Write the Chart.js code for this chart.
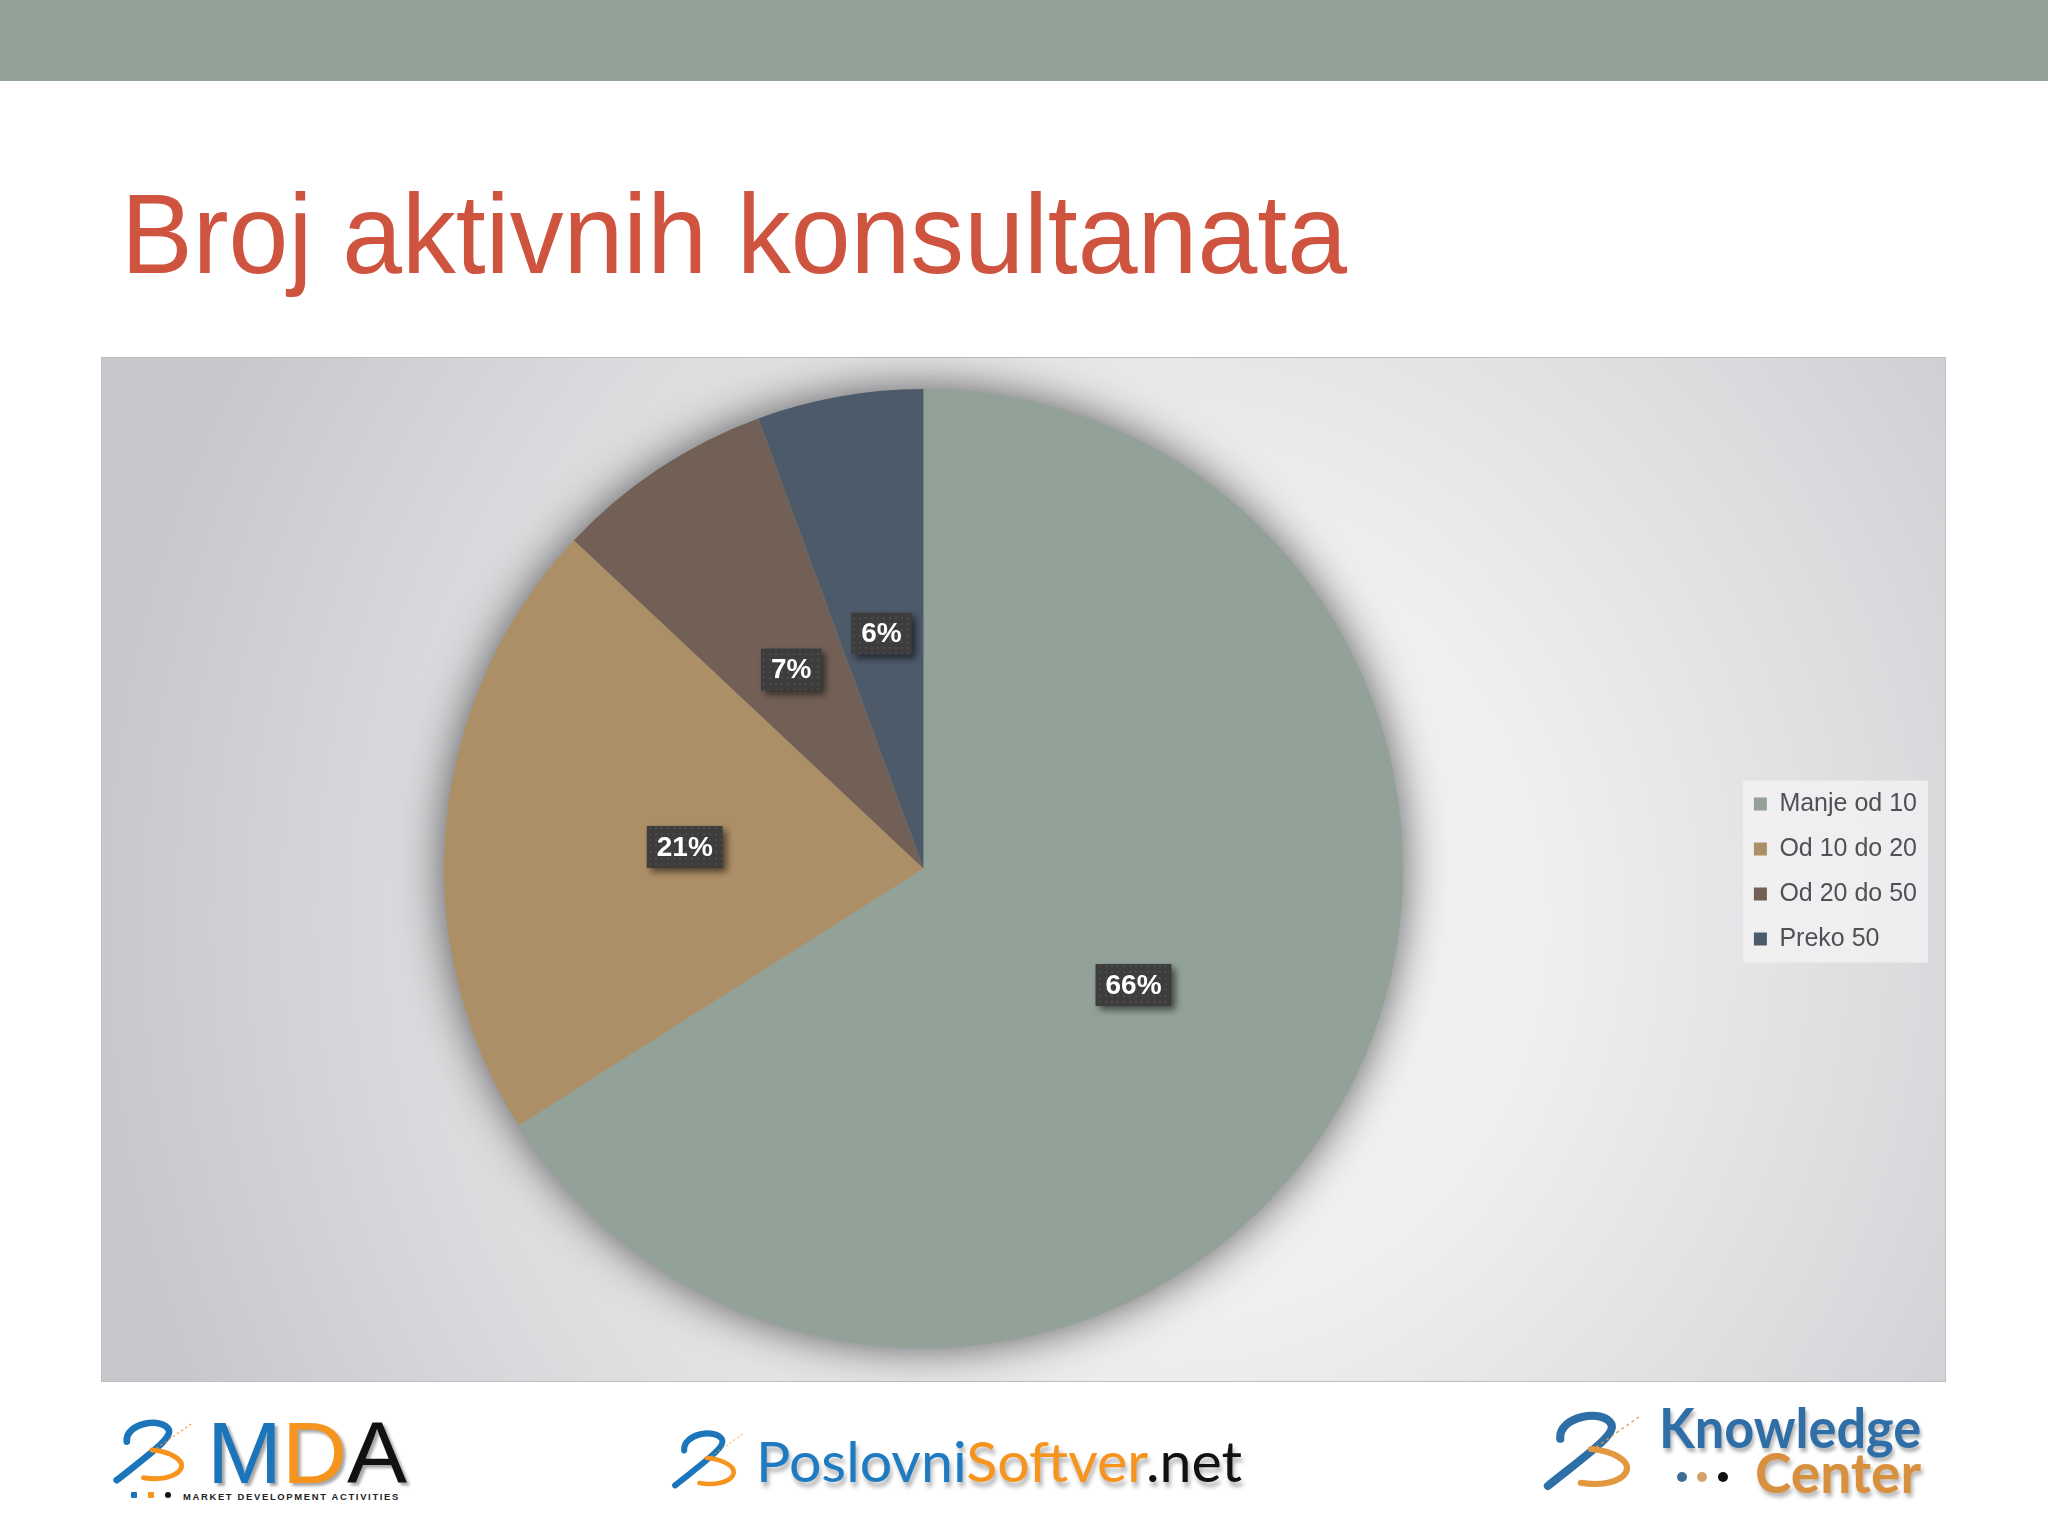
<!DOCTYPE html>
<html><head><meta charset="utf-8">
<script src="https://cdn.jsdelivr.net/npm/chart.js@4.4.1/dist/chart.umd.min.js"></script>
<style>
html,body{margin:0;padding:0;background:#fff;}
body{width:2048px;height:1536px;position:relative;overflow:hidden;font-family:"Liberation Sans",Arial,sans-serif;}
#topbar{position:absolute;left:0;top:0;width:2048px;height:81px;background:#93A299;}
.txt{position:absolute;white-space:nowrap;line-height:1;transform-origin:0 0;display:inline-block;}
#chartbox{position:absolute;left:101px;top:357px;width:1845px;height:1025px;
 background: radial-gradient(ellipse 1080px 1150px at 58% 55%, #F7F7F9 0%, #EFEFF1 35%, #DCDCDF 68%, #C8C7CC 100%);
 box-shadow: inset 0 0 0 1px #BEBEC3;}
#chart{position:absolute;left:0;top:0;}
svg.icon{position:absolute;overflow:visible;}
.dot{position:absolute;border-radius:50%;}
</style></head>
<body>
<div id="topbar"></div>
<div id="title" class="txt" style="font-size:113px;color:#CF543F;">Broj aktivnih konsultanata</div>
<div id="chartbox"><canvas id="chart" width="1845" height="1025"></canvas></div>

<!-- MDA logo -->
<svg class="icon" style="left:110px;top:1415px" width="84" height="70" viewBox="0 0 100 80">
 <path d="M20,30 C18,8 62,0 70,16 C74,26 48,44 8,76" fill="none" stroke="#1B75BB" stroke-width="8" stroke-linecap="round"/>
 <path d="M50,40 C72,42 90,52 84,63 C78,73 58,76 40,73" fill="none" stroke="#F7941D" stroke-width="6" stroke-linecap="round"/>
 <path d="M55,38 L98,8" fill="none" stroke="#F7941D" stroke-width="1.2" stroke-dasharray="3,3"/>
</svg>
<div id="mda" class="txt" style="font-size:88px;text-shadow:3px 3px 3px rgba(0,0,0,0.35);"><span style="color:#1B75BB">M</span><span style="color:#F7941D">D</span><span style="color:#111">A</span></div>
<div class="dot" style="left:131px;top:1492px;width:6px;height:6px;border-radius:1px;background:#1B75BB"></div>
<div class="dot" style="left:148px;top:1492px;width:6px;height:6px;border-radius:1px;background:#F7941D"></div>
<div class="dot" style="left:165px;top:1492px;width:6px;height:6px;background:#111"></div>
<div id="mdasub" class="txt" style="font-size:9px;font-weight:bold;letter-spacing:1.6px;color:#222;">MARKET DEVELOPMENT ACTIVITIES</div>

<!-- PoslovniSoftver logo -->
<svg class="icon" style="left:669px;top:1427px" width="76" height="62" viewBox="0 0 100 80">
 <path d="M20,30 C18,8 62,0 70,16 C74,26 48,44 8,76" fill="none" stroke="#1B75BB" stroke-width="8" stroke-linecap="round"/>
 <path d="M50,40 C72,42 90,52 84,63 C78,73 58,76 40,73" fill="none" stroke="#F7941D" stroke-width="6" stroke-linecap="round"/>
 <path d="M55,38 L98,8" fill="none" stroke="#F7941D" stroke-width="1.2" stroke-dasharray="3,3"/>
</svg>
<div id="ps" class="txt" style="font-family:Lato,'Open Sans',sans-serif;font-size:56px;text-shadow:2px 5px 4px rgba(0,0,0,0.3);"><span style="color:#1F7BC1">Poslovni</span><span style="color:#F7941D">Softver</span><span style="color:#111">.net</span></div>

<!-- Knowledge Center logo -->
<svg class="icon" style="left:1538px;top:1408px" width="106" height="82" viewBox="0 0 100 80">
 <path d="M20,30 C18,8 62,0 70,16 C74,26 48,44 8,76" fill="none" stroke="#2E6FA8" stroke-width="8" stroke-linecap="round"/>
 <path d="M50,40 C72,42 90,52 84,63 C78,73 58,76 40,73" fill="none" stroke="#E3983F" stroke-width="6" stroke-linecap="round"/>
 <path d="M55,38 L98,8" fill="none" stroke="#E3983F" stroke-width="1.2" stroke-dasharray="3,3"/>
</svg>
<div id="kn" class="txt" style="font-family:Lato,'Open Sans',sans-serif;font-weight:bold;font-size:55px;color:#2F6EA6;text-shadow:2px 4px 4px rgba(0,0,0,0.3);">Knowledge</div>
<div id="ce" class="txt" style="font-family:Lato,'Open Sans',sans-serif;font-weight:bold;font-size:55px;color:#D9903E;text-shadow:2px 4px 4px rgba(0,0,0,0.3);">Center</div>
<div class="dot" style="left:1677px;top:1472px;width:10px;height:10px;background:#3C6E98"></div>
<div class="dot" style="left:1697px;top:1472px;width:10px;height:10px;background:#D2A36A"></div>
<div class="dot" style="left:1718px;top:1472px;width:10px;height:10px;background:#111"></div>

<script>
// ---- data ----
const categories = ['Manje od 10', 'Od 10 do 20', 'Od 20 do 50', 'Preko 50'];
const values = [66, 21, 7.4, 5.6];
const sliceColors = ['#93A299', '#AD8F67', '#726056', '#4C5A6A'];

function place(id, x, baseline, fitWidth){
  const el = document.getElementById(id);
  el.style.left = x + 'px'; el.style.top = '0px';
  const m = document.createElement('span');
  m.style.cssText = 'display:inline-block;width:0;height:0;vertical-align:baseline;';
  el.appendChild(m);
  const off = m.getBoundingClientRect().top - el.getBoundingClientRect().top;
  el.removeChild(m);
  el.style.top = (baseline - off) + 'px';
  if (fitWidth) {
    const w = el.getBoundingClientRect().width;
    el.style.transform = 'scaleX(' + (fitWidth / w) + ')';
  }
}
place('title', 121, 273, 1226);
place('mda', 207, 1483, 200);
place('mdasub', 183, 1500, 217);
place('ps', 756, 1482, 486);
place('kn', 1659, 1448, 262);
place('ce', 1755, 1493, 166);

Chart.defaults.font.family = '"Liberation Sans", Arial, sans-serif';

function makePattern(ctx){
  const c = document.createElement('canvas'); c.width = 6; c.height = 6;
  const p = c.getContext('2d');
  p.fillStyle = '#3D3D3D'; p.fillRect(0, 0, 6, 6);
  p.fillStyle = '#515152'; p.beginPath(); p.arc(3, 3, 1.1, 0, Math.PI * 2); p.fill();
  return ctx.createPattern(c, 'repeat');
}

const legendBg = {
  id: 'legendBg',
  beforeDraw(chart){
    const lg = chart.legend; const ctx = chart.ctx;
    const cy = (lg.top + lg.bottom) / 2 + 3;
    ctx.save();
    ctx.fillStyle = 'rgba(242,242,244,0.8)';
    ctx.fillRect(lg.left + 9, cy - 91, 185, 182);
    ctx.restore();
  }
};

const pieShadow = {
  id: 'pieShadow',
  beforeDatasetsDraw(chart){
    const arc = chart.getDatasetMeta(0).data[0];
    const ctx = chart.ctx;
    ctx.save();
    ctx.shadowColor = 'rgba(25,25,25,0.7)';
    ctx.shadowBlur = 45;
    ctx.beginPath();
    ctx.arc(arc.x, arc.y, arc.outerRadius, 0, Math.PI * 2);
    ctx.fillStyle = sliceColors[0];
    ctx.fill();
    ctx.restore();
  }
};

const dataLabels = {
  id: 'dataLabels',
  afterDatasetsDraw(chart){
    const ctx = chart.ctx;
    const pattern = makePattern(ctx);
    const meta = chart.getDatasetMeta(0);
    const ds = chart.data.datasets[0].data;
    const total = ds.reduce((a, b) => a + b, 0);
    ctx.save();
    ctx.font = 'bold 28px "Liberation Sans", Arial, sans-serif';
    meta.data.forEach((arc, i) => {
      const pos = arc.tooltipPosition();
      const text = Math.round(ds[i] / total * 100) + '%';
      const tw = ctx.measureText(text).width;
      const w = tw + 20, h = 42;
      const x = pos.x - w / 2, y = pos.y - h / 2 + 1;
      ctx.save();
      ctx.shadowColor = 'rgba(0,0,0,0.55)';
      ctx.shadowBlur = 7; ctx.shadowOffsetX = 4; ctx.shadowOffsetY = 4;
      ctx.fillStyle = pattern;
      ctx.fillRect(x, y, w, h);
      ctx.restore();
      ctx.fillStyle = '#FFFFFF';
      ctx.textAlign = 'center'; ctx.textBaseline = 'middle';
      ctx.fillText(text, pos.x, pos.y + 2);
    });
    ctx.restore();
  }
};

new Chart(document.getElementById('chart'), {
  type: 'pie',
  data: {
    labels: categories,
    datasets: [{ data: values, backgroundColor: sliceColors, borderWidth: 0 }]
  },
  options: {
    responsive: false,
    animation: false,
    devicePixelRatio: 1,
    events: [],
    layout: { padding: { left: 12, right: 19, top: 32, bottom: 34 } },
    plugins: {
      tooltip: { enabled: false },
      legend: {
        position: 'right',
        align: 'center',
        title: { display: true, text: ' ', font: { size: 2, lineHeight: 1 }, padding: 2 },
        labels: {
          boxWidth: 13, boxHeight: 13, padding: 20,
          color: '#505055',
          font: { size: 25 }
        }
      }
    }
  },
  plugins: [legendBg, pieShadow, dataLabels]
});
</script>
</body></html>
